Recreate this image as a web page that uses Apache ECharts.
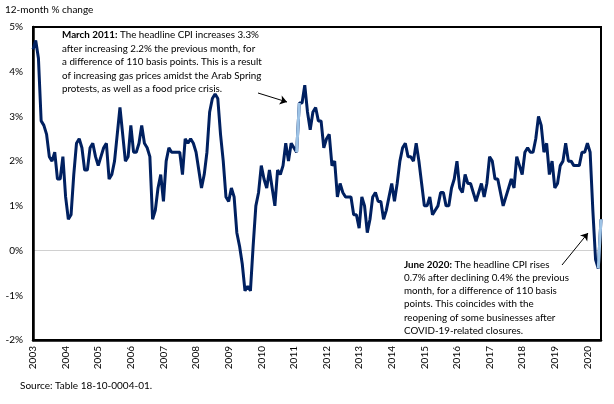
<!DOCTYPE html>
<html>
<head>
<meta charset="utf-8">
<script src="https://cdn.jsdelivr.net/npm/echarts@6/dist/echarts.min.js"></script>
<style>
  html, body { margin: 0; padding: 0; background: #fff; }
  #chart { width: 614px; height: 404px; }
</style>
</head>
<body>
<div id="chart"></div>
<script>
// 12-month % change, Jan 2003 .. Jun 2020, one array per year
var years = [2003, 2004, 2005, 2006, 2007, 2008, 2009, 2010, 2011,
             2012, 2013, 2014, 2015, 2016, 2017, 2018, 2019, 2020];
var cpi2003 = [4.5, 4.7, 4.3, 2.9, 2.8, 2.6, 2.1, 2.0, 2.2, 1.6, 1.6, 2.1];
var cpi2004 = [1.2, 0.7, 0.8, 1.7, 2.4, 2.5, 2.3, 1.8, 1.8, 2.3, 2.4, 2.1];
var cpi2005 = [1.9, 2.1, 2.3, 2.4, 1.6, 1.7, 2.0, 2.6, 3.2, 2.6, 2.0, 2.1];
var cpi2006 = [2.8, 2.2, 2.2, 2.4, 2.8, 2.4, 2.3, 2.1, 0.7, 0.9, 1.4, 1.7];
var cpi2007 = [1.1, 2.0, 2.3, 2.2, 2.2, 2.2, 2.2, 1.7, 2.5, 2.4, 2.5, 2.4];
var cpi2008 = [2.2, 1.8, 1.4, 1.7, 2.2, 3.1, 3.4, 3.5, 3.4, 2.6, 2.0, 1.2];
var cpi2009 = [1.1, 1.4, 1.2, 0.4, 0.1, -0.3, -0.9, -0.8, -0.9, 0.1, 1.0, 1.3];
var cpi2010 = [1.9, 1.6, 1.4, 1.8, 1.4, 1.0, 1.8, 1.7, 1.9, 2.4, 2.0, 2.4];
var cpi2011 = [2.3, 2.2, 3.3, 3.3, 3.7, 3.1, 2.7, 3.1, 3.2, 2.9, 2.9, 2.3];
var cpi2012 = [2.5, 2.6, 1.9, 2.0, 1.2, 1.5, 1.3, 1.2, 1.2, 1.2, 0.8, 0.8];
var cpi2013 = [0.5, 1.2, 1.0, 0.4, 0.7, 1.2, 1.3, 1.1, 1.1, 0.7, 0.9, 1.2];
var cpi2014 = [1.5, 1.1, 1.5, 2.0, 2.3, 2.4, 2.1, 2.1, 2.0, 2.4, 2.0, 1.5];
var cpi2015 = [1.0, 1.0, 1.2, 0.8, 0.9, 1.0, 1.3, 1.3, 1.0, 1.0, 1.4, 1.6];
var cpi2016 = [2.0, 1.4, 1.3, 1.7, 1.5, 1.5, 1.3, 1.1, 1.3, 1.5, 1.2, 1.5];
var cpi2017 = [2.1, 2.0, 1.6, 1.6, 1.3, 1.0, 1.2, 1.4, 1.6, 1.4, 2.1, 1.9];
var cpi2018 = [1.7, 2.2, 2.3, 2.2, 2.2, 2.5, 3.0, 2.8, 2.2, 2.4, 1.7, 2.0];
var cpi2019 = [1.4, 1.5, 1.9, 2.0, 2.4, 2.0, 2.0, 1.9, 1.9, 1.9, 2.2, 2.2];
var cpi2020 = [2.4, 2.2, 0.9, -0.2, -0.4, 0.7];

// months that are drawn in light blue
var highlightMonths = ['2011-02', '2011-03', '2020-05', '2020-06'];

var values = [].concat(cpi2003, cpi2004, cpi2005, cpi2006, cpi2007, cpi2008,
  cpi2009, cpi2010, cpi2011, cpi2012, cpi2013, cpi2014, cpi2015, cpi2016,
  cpi2017, cpi2018, cpi2019, cpi2020);

var months = [];
for (var i = 0; i < values.length; i++) {
  var y = years[0] + Math.floor(i / 12);
  var m = (i % 12) + 1;
  months.push(y + '-' + (m < 10 ? '0' + m : m));
}

var highlight = months.map(function (m, i) {
  return highlightMonths.indexOf(m) >= 0 ? values[i] : null;
});

var font = 'Lato';
var myChart = echarts.init(document.getElementById('chart'), null, { renderer: 'canvas' });

var option = {
  animation: false,
  textStyle: { fontFamily: font },
  grid: { left: 33, right: 13, top: 27, bottom: 64 },
  xAxis: {
    type: 'category',
    data: months,
    boundaryGap: false,
    axisLine: { onZero: false, lineStyle: { color: '#000', width: 2.5 } },
    axisTick: { show: false },
    axisLabel: {
      interval: function (idx) { return idx % 12 === 0; },
      rotate: 90,
      fontSize: 10,
      color: '#000',
      margin: 6,
      fontFamily: font,
      formatter: function (v) { return v.slice(0, 4); }
    },
    splitLine: { show: false }
  },
  yAxis: {
    type: 'value',
    min: -2,
    max: 5,
    interval: 1,
    axisLine: { show: true, lineStyle: { color: '#000', width: 2.5 } },
    axisTick: { show: false },
    axisLabel: {
      formatter: '{value}%',
      fontSize: 10,
      color: '#000',
      margin: 10,
      fontFamily: font
    },
    splitLine: {
      show: true,
      lineStyle: {
        color: ['transparent', 'transparent', '#d0d0d0', 'transparent',
                'transparent', 'transparent', 'transparent', 'transparent'],
        width: 1
      }
    }
  },
  series: [
    {
      type: 'line',
      data: values,
      symbol: 'none',
      lineStyle: { color: '#002060', width: 3 },
      z: 3
    },
    {
      type: 'line',
      data: highlight,
      symbol: 'none',
      connectNulls: false,
      lineStyle: { color: '#9dc3e6', width: 3 },
      z: 4,
      markLine: {
        silent: true,
        symbol: ['none', 'arrow'],
        symbolSize: 7,
        label: { show: false },
        lineStyle: { color: '#000', width: 1, type: 'solid' },
        data: [
          [{ x: 258, y: 93 }, { x: 287, y: 102 }],
          [{ x: 562, y: 265 }, { x: 588, y: 233 }]
        ]
      }
    }
  ],
  graphic: [
    {
      type: 'rect',
      shape: { x: 33, y: 27, width: 568, height: 313 },
      style: { fill: 'none', stroke: '#000', lineWidth: 2 },
      silent: true,
      z: 1
    },
    {
      type: 'text',
      left: 5, top: 5,
      style: { text: '12-month % change', fontSize: 10, fill: '#000', fontFamily: font }
    },
    {
      type: 'text',
      left: 20, top: 381,
      style: { text: 'Source: Table 18-10-0004-01.', fontSize: 10, fill: '#000', fontFamily: font }
    },
    {
      type: 'text',
      left: 62, top: 28,
      style: {
        text: '{b|March 2011:} The headline CPI increases 3.3%\n' +
              'after increasing 2.2% the previous month, for\n' +
              'a difference of 110 basis points. This is a result\n' +
              'of increasing gas prices amidst the Arab Spring\n' +
              'protests, as well as a food price crisis.',
        fontSize: 9.8,
        lineHeight: 13.6,
        fill: '#000',
        fontFamily: font,
        rich: { b: { fontWeight: 'bold', fontSize: 9.8, fontFamily: font } }
      }
    },
    {
      type: 'text',
      left: 404, top: 258,
      style: {
        text: '{b|June 2020:} The headline CPI rises\n' +
              '0.7% after declining 0.4% the previous\n' +
              'month, for a difference of 110 basis\n' +
              'points. This coincides with the\n' +
              'reopening of some businesses after\n' +
              'COVID-19-related closures.',
        fontSize: 9.8,
        lineHeight: 13.2,
        fill: '#000',
        fontFamily: font,
        rich: { b: { fontWeight: 'bold', fontSize: 9.8, fontFamily: font } }
      }
    }
  ]
};
myChart.setOption(option);
</script>
</body>
</html>
